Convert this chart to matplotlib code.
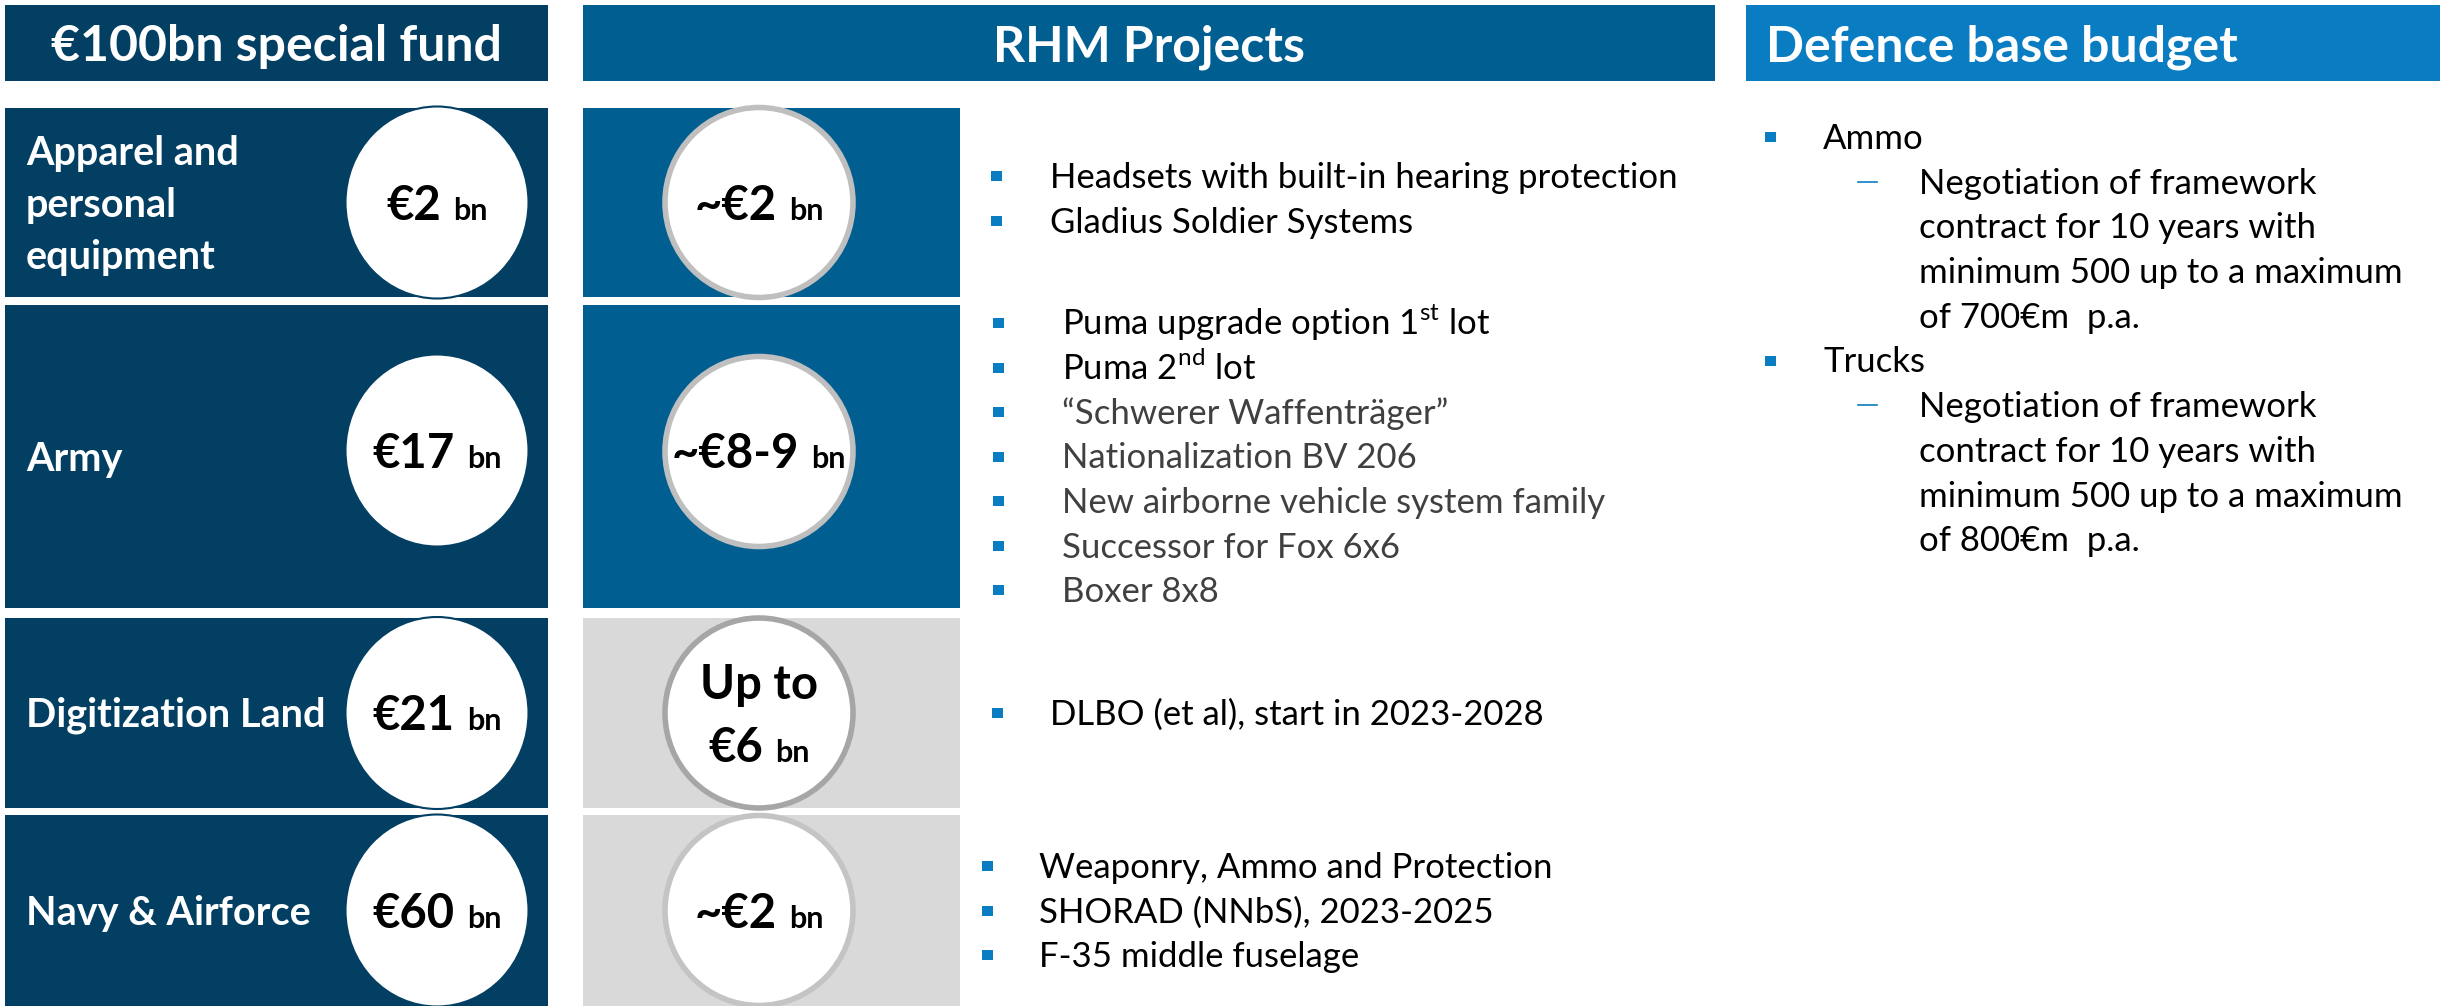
import matplotlib
matplotlib.use("Agg")
import matplotlib.pyplot as plt
from matplotlib.patches import Rectangle, Ellipse

plt.rcParams['font.family'] = ['Lato', 'DejaVu Sans']
plt.rcParams['mathtext.fontset'] = 'custom'
plt.rcParams['mathtext.rm'] = 'Lato'

# --- content -------------------------------------------------------------
header_titles = ["€100bn special fund", "RHM Projects", "Defence base budget"]

fund_areas = [["Apparel and", "personal", "equipment"], ["Army"],
              ["Digitization Land"], ["Navy & Airforce"]]
fund_amounts = ["€2", "€17", "€21", "€60"]

rhm_amounts = [["~€2"], ["~€8-9"], ["Up to", "€6"], ["~€2"]]
rhm_projects = [
    ["Headsets with built-in hearing protection", "Gladius Soldier Systems"],
    ["Puma upgrade option 1$^{\\mathrm{st}}$ lot", "Puma 2$^{\\mathrm{nd}}$ lot",
     "“Schwerer Waffenträger”", "Nationalization BV 206",
     "New airborne vehicle system family", "Successor for Fox 6x6", "Boxer 8x8"],
    ["DLBO (et al), start in 2023-2028"],
    ["Weaponry, Ammo and Protection", "SHORAD (NNbS), 2023-2025",
     "F-35 middle fuselage"],
]
# items of the army row shown in grey in the slide
army_grey_from = 2

defence_items = ["Ammo", "Trucks"]
defence_details = [
    ["Negotiation of framework", "contract for 10 years with",
     "minimum 500 up to a maximum", "of 700€m  p.a."],
    ["Negotiation of framework", "contract for 10 years with",
     "minimum 500 up to a maximum", "of 800€m  p.a."],
]

# --- styling -------------------------------------------------------------
NAVY = '#023f62'
MID = '#015e91'
BRIGHT = '#0a7cc1'
GREY_BOX = '#d9d9d9'
BULLET = '#0a7cc1'
BODY = 25

W, H = 2440, 1006
fig = plt.figure(figsize=(W / 100, H / 100), dpi=100)
ax = fig.add_axes([0, 0, 1, 1])
ax.set_xlim(0, W)
ax.set_ylim(H, 0)
ax.axis('off')
renderer = fig.canvas.get_renderer()

# headers
hdr = [(5, 548, NAVY), (583, 1715, MID), (1746, 2440, BRIGHT)]
for (x0, x1, col), title in zip(hdr, header_titles):
    ax.add_patch(Rectangle((x0, 5), x1 - x0, 76, color=col, lw=0))
for i, title in enumerate(header_titles):
    x0, x1, _ = hdr[i]
    if i < 2:
        ax.text((x0 + x1) / 2, 61, title, fontsize=36, fontweight='bold',
                color='white', ha='center', va='baseline')
    else:
        ax.text(1766, 61, title, fontsize=36, fontweight='bold',
                color='white', ha='left', va='baseline')

rows = [(108, 297), (305, 608), (618, 808), (815, 1006)]
mid_fill = [MID, MID, GREY_BOX, GREY_BOX]
mid_edge = ['#bfbfbf', '#bfbfbf', '#a6a6a6', '#c4c4c4']


def amount(cx, base, big):
    t1 = ax.text(0, base, big, fontsize=34, fontweight='bold', color='black',
                 ha='left', va='baseline', zorder=5)
    t2 = ax.text(0, base, "bn", fontsize=22, fontweight='bold', color='black',
                 ha='left', va='baseline', zorder=5)
    w1 = t1.get_window_extent(renderer).width
    w2 = t2.get_window_extent(renderer).width
    gap = 12
    x0 = cx - (w1 + gap + w2) / 2
    t1.set_x(x0)
    t2.set_x(x0 + w1 + gap)


for r, (top, bot) in enumerate(rows):
    cy = (top + bot) / 2
    # left column
    ax.add_patch(Rectangle((5, top), 543, bot - top, color=NAVY, lw=0))
    lines = fund_areas[r]
    for k, line in enumerate(lines):
        base = cy + 14 + (k - (len(lines) - 1) / 2) * 52
        ax.text(26, base, line, fontsize=28.5, fontweight='bold', color='white',
                ha='left', va='baseline')
    ccy = cy - 6 if r == 1 else cy
    ax.add_patch(Ellipse((437, ccy), 183, min(192, bot - top + 6),
                         facecolor='white', edgecolor=NAVY, lw=1.5, zorder=3))
    amount(437, ccy + 17, fund_amounts[r])

    # middle column
    ax.add_patch(Rectangle((583, top), 377, bot - top, color=mid_fill[r], lw=0))
    ccy = cy - 5 if r == 1 else cy
    ax.add_patch(Ellipse((759, ccy), 188, 190, facecolor='white',
                         edgecolor=mid_edge[r], lw=4, zorder=3))
    am = rhm_amounts[r]
    if len(am) == 1:
        amount(759, ccy + 17, am[0])
    else:
        ax.text(759, ccy - 31 + 17, am[0], fontsize=34, fontweight='bold',
                color='black', ha='center', va='baseline', zorder=5)
        amount(759, ccy + 32 + 17, am[1])

    # bullet list
    sq_x = [991, 993, 992, 982][r]
    tx_x = [1050, 1062, 1050, 1039][r]
    items = rhm_projects[r]
    step = 44.5
    for k, item in enumerate(items):
        y = cy + (k - (len(items) - 1) / 2) * step
        if r == 0:
            y -= 4
        col = '#404040' if (r == 1 and k >= army_grey_from) else 'black'
        ax.add_patch(Rectangle((sq_x, y - 5), 11, 10, color=BULLET, lw=0))
        ax.text(tx_x, y + 12, item, fontsize=BODY, color=col,
                ha='left', va='baseline')

# defence base budget
y = 137
step = 44.7
for item, details in zip(defence_items, defence_details):
    ax.add_patch(Rectangle((1765, y - 5), 11, 10, color=BULLET, lw=0))
    ax.text(1823, y + 12, item, fontsize=BODY, color='black', va='baseline')
    y += step
    ax.plot([1858, 1877], [y, y], color=BULLET, lw=1.2)
    for line in details:
        ax.text(1919, y + 12, line, fontsize=BODY, color='black', va='baseline')
        y += step

fig.savefig('out.png', dpi=100, facecolor='white')
